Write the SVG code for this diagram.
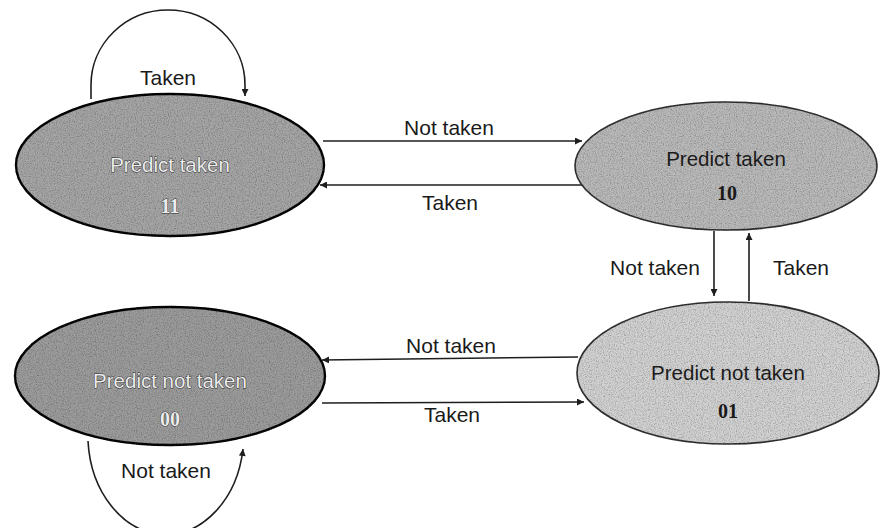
<svg xmlns="http://www.w3.org/2000/svg" width="881" height="528" viewBox="0 0 881 528">
<style>
  .lbl { font-family: "Liberation Sans", Arial, sans-serif; font-size: 21px; fill: #1a1a1a; text-anchor: middle; }
  .name { font-family: "Liberation Sans", Arial, sans-serif; font-size: 20.5px; text-anchor: middle; }
  .code { font-family: "Liberation Serif", "Times New Roman", serif; font-size: 20px; font-weight: bold; text-anchor: middle; }
  .light { fill: #ececec; stroke: #2a2a2a; stroke-width: 0.9px; paint-order: stroke; }
  .dark { fill: #1a1a1a; }
  .edge { fill: none; stroke: #1e1e1e; stroke-width: 1.6px; }
  .state { filter: url(#grain); }
</style>
<defs>
  <filter id="grain" x="-2%" y="-2%" width="104%" height="104%">
    <feTurbulence type="fractalNoise" baseFrequency="0.85" numOctaves="2" seed="4" result="n"/>
    <feColorMatrix in="n" type="matrix" values="0 0 0 0 0  0 0 0 0 0  0 0 0 0 0  1.1 0 0 0 -0.45" result="a"/>
    <feComposite in="a" in2="SourceGraphic" operator="in" result="s"/>
    <feMerge><feMergeNode in="SourceGraphic"/><feMergeNode in="s"/></feMerge>
  </filter>
  <marker id="arr" viewBox="0 0 10 10" refX="10" refY="5" markerWidth="9" markerHeight="7" markerUnits="userSpaceOnUse" orient="auto">
    <path d="M0,0 L10,5 L0,10 Z" fill="#1e1e1e"/>
  </marker>
</defs>
<rect width="881" height="528" fill="#ffffff"/>

<g id="connectors">
  <path class="edge" d="M91,99 V85 A77 75 0 0 1 245 85 V96" marker-end="url(#arr)"/>
  <path class="edge" d="M88,441 A78 100 0 0 0 243 449" marker-end="url(#arr)"/>
  <path class="edge" d="M323,141 H582" marker-end="url(#arr)"/>
  <path class="edge" d="M585,185 H320" marker-end="url(#arr)"/>
  <path class="edge" d="M578,357 L322,360" marker-end="url(#arr)"/>
  <path class="edge" d="M322,403 L584,402" marker-end="url(#arr)"/>
  <path class="edge" d="M714,231 V296" marker-end="url(#arr)"/>
  <path class="edge" d="M749,301 V233" marker-end="url(#arr)"/>
  <text class="lbl" x="168" y="85">Taken</text>
  <text class="lbl" x="166" y="478">Not taken</text>
  <text class="lbl" x="449" y="135">Not taken</text>
  <text class="lbl" x="450" y="210">Taken</text>
  <text class="lbl" x="451" y="353">Not taken</text>
  <text class="lbl" x="452" y="422">Taken</text>
  <text class="lbl" x="655" y="275">Not taken</text>
  <text class="lbl" x="801" y="275">Taken</text>
</g>

<g id="state11">
  <ellipse class="state" cx="170" cy="165" rx="154" ry="71" fill="#a6a6a6" stroke="#111" stroke-width="2.4"/>
  <text class="name light" x="170" y="172">Predict taken</text>
  <text class="code light" x="170" y="213">11</text>
</g>

<g id="state10">
  <ellipse class="state" cx="726" cy="166" rx="151" ry="64" fill="#bababa" stroke="#333" stroke-width="1.6"/>
  <text class="name dark" x="726" y="166">Predict taken</text>
  <text class="code dark" x="727" y="200">10</text>
</g>

<g id="state00">
  <ellipse class="state" cx="170" cy="376" rx="155" ry="69" fill="#9c9c9c" stroke="#111" stroke-width="2.4"/>
  <text class="name light" x="170" y="388">Predict not taken</text>
  <text class="code light" x="170" y="426">00</text>
</g>

<g id="state01">
  <ellipse class="state" cx="728" cy="373" rx="151" ry="71" fill="#d2d2d2" stroke="#333" stroke-width="1.6"/>
  <text class="name dark" x="728" y="380">Predict not taken</text>
  <text class="code dark" x="728" y="418">01</text>
</g>
</svg>
